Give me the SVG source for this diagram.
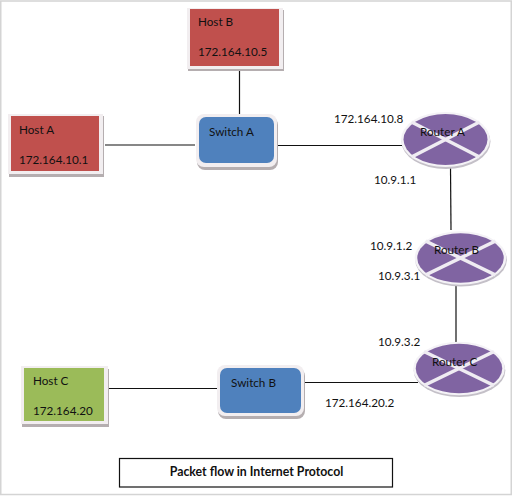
<svg xmlns="http://www.w3.org/2000/svg" width="513" height="496" viewBox="0 0 513 496">
<style>
text{font-family:Lato,"Noto Sans",sans-serif;font-size:11.7px;fill:#111}
.conn line{stroke:#111;stroke-width:1.2}
.sh{fill:#b5aeb0}
.br{fill:#f2eef0}
.red{fill:#c0504d}
.grn{fill:#9bbb59}
.blu{fill:#4f81bd}
.pur{fill:#8064a2}
.x{stroke:#efecf2;stroke-width:3.6}
</style>
<defs>
<g id="router">
<ellipse cx="0.5" cy="2" rx="44.500" ry="27.500" fill="#c4c0c8"/>
<ellipse cx="0" cy="0" rx="44.500" ry="27.500" fill="#f4f2f6"/>
<ellipse cx="0" cy="0" rx="42" ry="25.500" class="pur"/>
<line x1="-34" y1="-17.500" x2="34" y2="17.500" class="x"/>
<line x1="34" y1="-17.500" x2="-34" y2="17.500" class="x"/>
</g>
</defs>
<rect width="513" height="496" fill="#fff"/>
<rect x="0.750" y="1" width="510.500" height="493.500" fill="none" stroke="#d4d4d4" stroke-width="1.500"/>
<g id="connectors" class="conn">
<line x1="239.500" y1="67" x2="239.500" y2="115"/>
<line x1="105" y1="145" x2="195" y2="145"/>
<line x1="275" y1="145.500" x2="402" y2="145.500"/>
<line x1="450.500" y1="167" x2="451" y2="230"/>
<line x1="456" y1="286" x2="456" y2="349"/>
<line x1="105" y1="388.500" x2="219" y2="388.500"/>
<line x1="302" y1="382.500" x2="418" y2="382.500"/>
</g>
<g id="host-b">
<rect x="188" y="10" width="96" height="61" class="sh"/>
<rect x="187" y="8" width="96" height="61" class="br"/>
<rect x="190" y="9" width="89" height="57" class="red"/>
<text x="198" y="26">Host B</text>
<text x="198" y="56">172.164.10.5</text>
</g>
<g id="host-a">
<rect x="9" y="116" width="95" height="61" class="sh"/>
<rect x="8" y="114" width="95" height="60" class="br"/>
<rect x="11" y="116" width="88" height="55" class="red"/>
<text x="19" y="134">Host A</text>
<text x="19" y="164">172.164.10.1</text>
</g>
<g id="host-c">
<rect x="22" y="369" width="87" height="58" class="sh"/>
<rect x="21" y="366" width="87" height="58" class="br"/>
<rect x="24" y="368" width="80" height="53" class="grn"/>
<text x="33" y="385">Host C</text>
<text x="33" y="415">172.164.20</text>
</g>
<g id="switch-a">
<rect x="197" y="117" width="81" height="53" rx="8" class="sh"/>
<rect x="196" y="114" width="81" height="53" rx="8" class="br"/>
<rect x="199" y="117" width="75" height="46" rx="7" class="blu"/>
<text x="209" y="136">Switch A</text>
</g>
<g id="switch-b">
<rect x="218" y="368" width="87" height="51" rx="8" class="sh"/>
<rect x="217" y="365" width="87" height="51" rx="8" class="br"/>
<rect x="220" y="368" width="81" height="45" rx="7" class="blu"/>
<text x="231" y="387">Switch B</text>
</g>
<g id="router-a">
<use href="#router" x="445.500" y="139.500"/>
<text x="420" y="136">Router A</text>
<text x="334" y="123">172.164.10.8</text>
<text x="374" y="184">10.9.1.1</text>
</g>
<g id="router-b">
<use href="#router" transform="translate(460.500 258) scale(1.03 .97)"/>
<text x="434" y="254">Router B</text>
<text x="370" y="250">10.9.1.2</text>
<text x="378" y="280">10.9.3.1</text>
</g>
<g id="router-c">
<use href="#router" transform="translate(459 368.500) scale(1.03 .97)"/>
<text x="432" y="366">Router C</text>
<text x="378" y="346">10.9.3.2</text>
<text x="325" y="407">172.164.20.2</text>
</g>
<g id="title">
<rect x="119.500" y="458.500" width="273" height="28.500" fill="#fff" stroke="#111" stroke-width="1.200"/>
<text x="256.500" y="476" text-anchor="middle" style="font-weight:700;font-size:12.300px">Packet flow in Internet Protocol</text>
</g>
</svg>
